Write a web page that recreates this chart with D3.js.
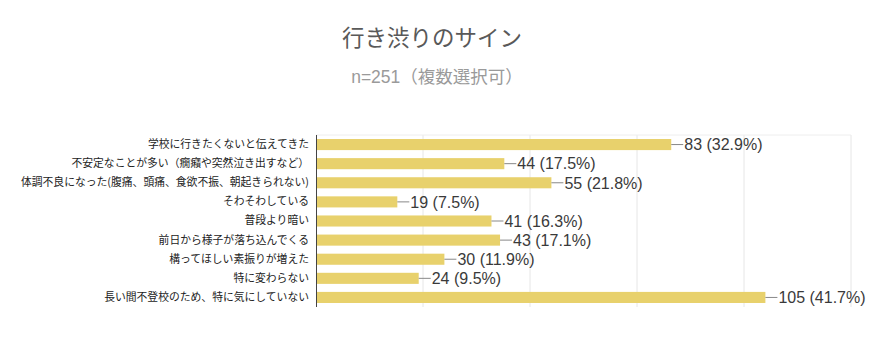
<!DOCTYPE html>
<html>
<head>
<meta charset="utf-8">
<script src="https://cdn.jsdelivr.net/npm/d3@7"></script>
<style>
  body { margin: 0; background: #fff; }
  text { font-family: "Liberation Sans", Arial, "Noto Sans CJK JP", sans-serif; }
</style>
</head>
<body>
<div id="chart"></div>
<script>
let categories = [
    "学校に行きたくないと伝えてきた",
    "不安定なことが多い（癇癪や突然泣き出すなど）",
    "体調不良になった(腹痛、頭痛、食欲不振、朝起きられない)",
    "そわそわしている",
    "普段より暗い",
    "前日から様子が落ち込んでくる",
    "構ってほしい素振りが増えた",
    "特に変わらない",
    "長い間不登校のため、特に気にしていない"
];
let counts = [83, 44, 55, 19, 41, 43, 30, 24, 105];
let percents = ["32.9%", "17.5%", "21.8%", "7.5%", "16.3%", "17.1%", "11.9%", "9.5%", "41.7%"];
let ticks = [0, 25, 50, 75, 100, 125];

let W = 894, H = 363;
let margin = {top: 135, right: 43, bottom: 56, left: 316},
    width = W - margin.left - margin.right,
    height = H - margin.top - margin.bottom;

let svg = d3.select("#chart")
    .append("svg")
    .attr("width", W)
    .attr("height", H);

svg.append("text")
    .attr("x", 432)
    .attr("y", 46)
    .attr("text-anchor", "middle")
    .attr("font-size", 22.5)
    .attr("fill", "#595959")
    .text("行き渋りのサイン");

svg.append("text")
    .attr("x", 437)
    .attr("y", 83)
    .attr("text-anchor", "middle")
    .attr("font-size", 17.5)
    .attr("fill", "#9a9a9a")
    .text("n=251（複数選択可）");

let x = d3.scaleLinear()
    .domain([0, 125])
    .range([0, width]);

let y = d3.scaleBand()
    .domain(categories)
    .range([0, height])
    .paddingInner(0.42)
    .paddingOuter(0.21);

let g = svg.append("g")
    .attr("transform", "translate(" + margin.left + "," + margin.top + ")");

// grid
g.selectAll("line.grid")
    .data(ticks.slice(1))
    .enter()
    .append("line")
    .attr("class", "grid")
    .attr("x1", function(d) { return x(d); })
    .attr("x2", function(d) { return x(d); })
    .attr("y1", 0)
    .attr("y2", height)
    .attr("stroke", "#e6e6e6");

g.append("line")
    .attr("x1", 0).attr("x2", width)
    .attr("y1", 0).attr("y2", 0)
    .attr("stroke", "#eeeeee");

g.selectAll("rect.bar")
    .data(counts)
    .enter()
    .append("rect")
    .attr("class", "bar")
    .attr("x", 0)
    .attr("y", function(d, i) { return y(categories[i]); })
    .attr("width", function(d) { return x(d); })
    .attr("height", y.bandwidth())
    .attr("fill", "#e8d16c");

// leader lines + value labels
g.selectAll("line.lead")
    .data(counts)
    .enter()
    .append("line")
    .attr("class", "lead")
    .attr("x1", function(d) { return x(d); })
    .attr("x2", function(d) { return x(d) + 12; })
    .attr("y1", function(d, i) { return y(categories[i]) + y.bandwidth() / 2; })
    .attr("y2", function(d, i) { return y(categories[i]) + y.bandwidth() / 2; })
    .attr("stroke", "#888")
    .attr("stroke-width", 1);

g.selectAll("text.val")
    .data(counts)
    .enter()
    .append("text")
    .attr("class", "val")
    .attr("x", function(d) { return x(d) + 13; })
    .attr("y", function(d, i) { return y(categories[i]) + y.bandwidth() / 2; })
    .attr("dy", "0.36em")
    .attr("font-size", 16)
    .attr("fill", "#3a3a3a")
    .text(function(d, i) { return d + " (" + percents[i] + ")"; });

// category axis
let yAxis = d3.axisLeft(y).tickSize(0).tickPadding(7);
let ya = g.append("g").call(yAxis);
ya.select(".domain").attr("stroke", "#444").attr("d", "M0.5,0V" + height);
ya.selectAll("text")
    .attr("font-size", 10.8)
    .attr("fill", "#222")
    .style("font-family", "'Noto Sans CJK JP', sans-serif");
</script>
</body>
</html>
